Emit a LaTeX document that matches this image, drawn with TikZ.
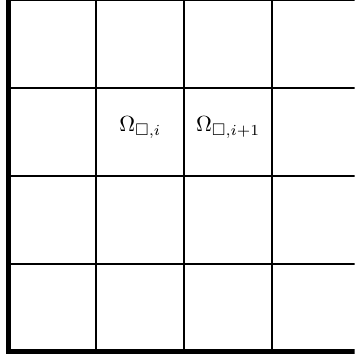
\documentclass[tikz,border=0pt]{standalone}
\usepackage{amssymb}
\usetikzlibrary{positioning}

\begin{document}
\begin{tikzpicture}[x=1.41cm,y=1.41cm]
  \useasboundingbox (-0.097,-0.06) rectangle (3.94,4.005);
  \clip (-0.097,-0.06) rectangle (3.94,4.005);
  \foreach \k in {1,2,3,4} {
    \draw[line width=0.8pt] (\k,0) -- (\k,4.5);
    \draw[line width=0.8pt] (0,\k) -- (4.5,\k);
  }
  \draw[line width=2.4pt] (0,4.5) -- (0,0) -- (4.5,0);
  \node (cella) at (1.5,2.55) {$\Omega_{\square,i}$};
  \node (cellb) at (2.5,2.55) {$\Omega_{\square,i+1}$};
\end{tikzpicture}
\end{document}
